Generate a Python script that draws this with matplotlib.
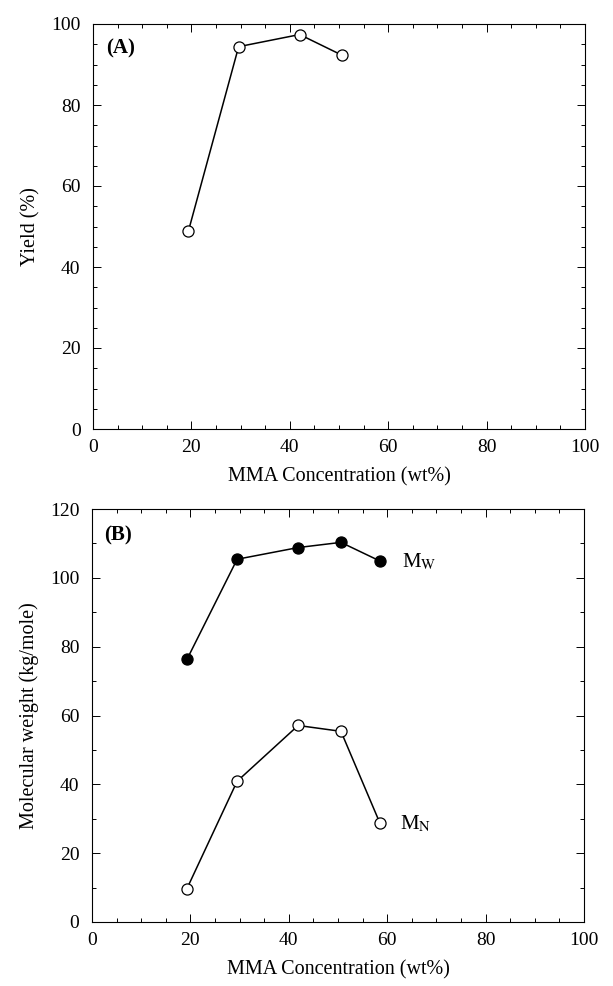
import matplotlib.pyplot as plt
from matplotlib.ticker import MultipleLocator

# Panel A: yield vs MMA concentration
conc_a = [19.4, 29.6, 42.0, 50.6]
yield_a = [48.9, 94.4, 97.4, 92.3]

# Panel B: molecular weights
conc_b = [19.3, 29.5, 41.9, 50.6, 58.5]
mw = [76.3, 105.4, 108.8, 110.3, 104.9]
mn = [9.7, 40.9, 57.1, 55.4, 28.8]

plt.rcParams['font.family'] = ['Liberation Serif', 'DejaVu Serif']
plt.rcParams['mathtext.fontset'] = 'stix'

fig = plt.figure(figsize=(6.13, 9.86), dpi=100)
W, H = 613, 986
axA = fig.add_axes([93 / W, 1 - 429 / H, (585 - 93) / W, (429 - 24) / H])
axB = fig.add_axes([92 / W, 1 - 922 / H, (584 - 92) / W, (922 - 509) / H])


def style(ax, ymax, ymaj, ymin):
    ax.set_xlim(0, 100)
    ax.set_ylim(0, ymax)
    ax.xaxis.set_major_locator(MultipleLocator(20))
    ax.xaxis.set_minor_locator(MultipleLocator(5))
    ax.yaxis.set_major_locator(MultipleLocator(ymaj))
    ax.yaxis.set_minor_locator(MultipleLocator(ymin))
    ax.tick_params(which='both', direction='in', top=True, right=True,
                   labelsize=14, width=0.7)
    ax.tick_params(axis='y', pad=9)
    ax.tick_params(axis='x', pad=7)
    ax.tick_params(which='major', length=6)
    ax.tick_params(which='minor', length=3)
    for s in ax.spines.values():
        s.set_linewidth(0.8)
    ax.set_xlabel("MMA Concentration (wt%)", fontsize=14.5, labelpad=8)


style(axA, 100, 20, 5)
axA.plot(conc_a, yield_a, '-o', color='black', lw=1.1, mfc='white',
         mec='black', ms=8, mew=0.9)
axA.set_ylabel("Yield (%)", fontsize=14.5, labelpad=8)
axA.text(2.7, 92.8, "(A)", fontsize=15, fontweight='bold')

style(axB, 120, 20, 10)
axB.plot(conc_b, mw, '-o', color='black', lw=1.1, mfc='black',
         mec='black', ms=8, mew=0.9)
axB.plot(conc_b, mn, '-o', color='black', lw=1.1, mfc='white',
         mec='black', ms=8, mew=0.9)
axB.set_ylabel("Molecular weight (kg/mole)", fontsize=14.5, labelpad=8)
axB.text(2.4, 110.8, "(B)", fontsize=15, fontweight='bold')
axB.text(63.0, 104.5, r"M$_{\mathrm{W}}$", fontsize=15, va='center')
axB.text(62.5, 28.5, r"M$_{\mathrm{N}}$", fontsize=15, va='center')

fig.savefig("out.png", dpi=100)
